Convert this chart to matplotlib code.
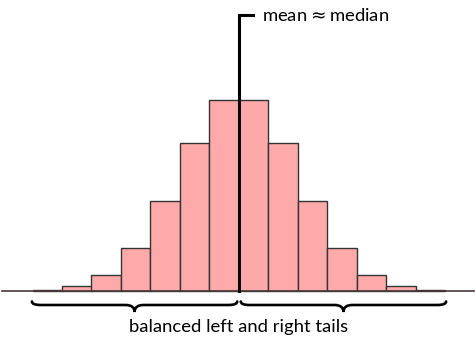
import numpy as np
import matplotlib
matplotlib.use("Agg")
import matplotlib.pyplot as plt
from matplotlib.path import Path
from matplotlib.patches import PathPatch

# histogram data (symmetric distribution)
bin_edges = np.arange(-7, 8)
counts = [1, 5, 16, 43, 90, 148, 191, 191, 148, 90, 43, 16, 5, 1]
mean_label = r"mean$\approx$median"
tails_label = "balanced left and right tails"

plt.rcParams['font.family'] = ['Lato', 'DejaVu Sans']


def brace(ax, x0, x1, y, rise, drop, r):
    # curly brace opening upward, tip pointing down
    xm = (x0 + x1) / 2
    verts = [
        (x0, y + rise), (x0, y), (x0 + r, y),
        (xm - r, y),
        (xm, y), (xm, y - drop),
        (xm, y), (xm + r, y),
        (x1 - r, y),
        (x1, y), (x1, y + rise),
    ]
    codes = [Path.MOVETO, Path.CURVE3, Path.CURVE3,
             Path.LINETO,
             Path.CURVE3, Path.CURVE3,
             Path.CURVE3, Path.CURVE3,
             Path.LINETO,
             Path.CURVE3, Path.CURVE3]
    ax.add_patch(PathPatch(Path(verts, codes), fill=False, lw=1.9,
                           edgecolor="black", capstyle="round"))


fig = plt.figure(figsize=(4.77, 3.45), dpi=100)
ax = fig.add_axes([0, 0, 1, 1])

centers = (bin_edges[:-1] + bin_edges[1:]) / 2
ax.bar(centers, counts, width=1.0, color="#ffaaaa", edgecolor="#333333",
       linewidth=1.0, zorder=2)

ax.axhline(0, xmin=2 / 477, xmax=474 / 477, color="#4a3838", lw=1.2, zorder=3)

mean = np.sum(centers * np.array(counts)) / np.sum(counts)
top = 276
ax.plot([mean, mean, mean + 0.47], [0, top, top], color="black", lw=2.2,
        solid_joinstyle="miter", zorder=4)
ax.text(mean + 0.78, 270, mean_label, fontsize=13.3, va="baseline", ha="left")

brace(ax, bin_edges[0] - 0.02, mean - 0.06, -14, 3.5, 7, 0.3)
brace(ax, mean + 0.06, bin_edges[-1] + 0.02, -14, 3.5, 7, 0.3)
ax.text(mean, -41, tails_label, fontsize=13.3, ha="center", va="baseline")

ax.set_xlim(-239 / 29.5, 238 / 29.5)
ax.set_ylim(-54, 291)
ax.axis("off")

fig.savefig("out.png", dpi=100)
